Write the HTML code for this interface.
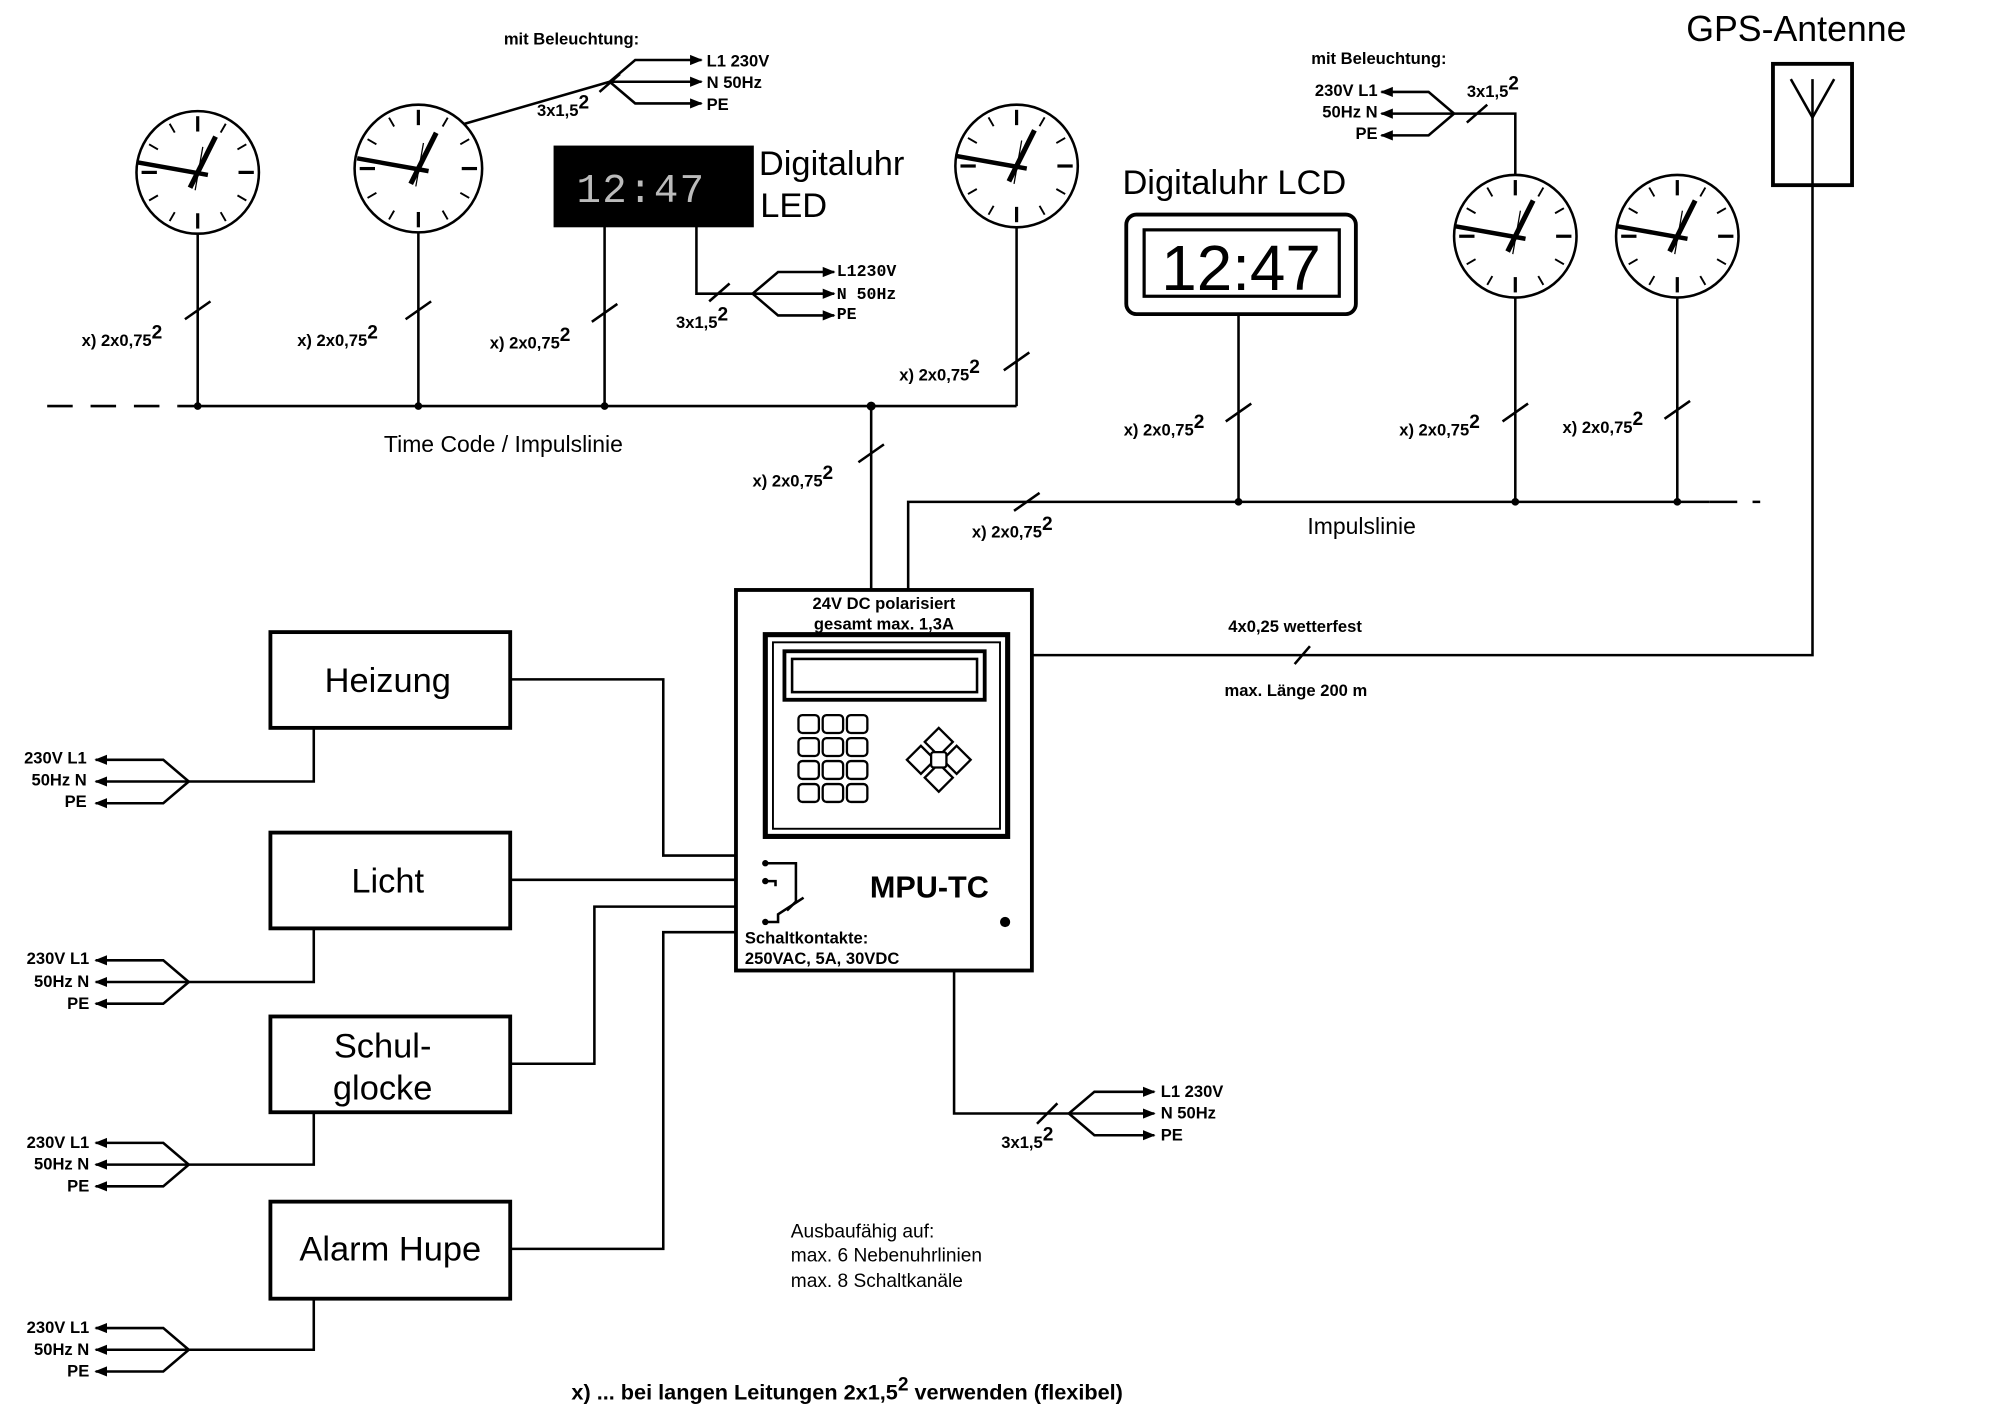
<!DOCTYPE html>
<html><head><meta charset="utf-8"><style>
html,body{margin:0;padding:0;background:#fff}
svg{display:block}
text{font-family:"Liberation Sans",sans-serif;fill:#000}
.b{font-weight:bold;font-size:13px}
</style></head><body>
<svg id="s" width="2000" height="1420" viewBox="0 0 1568 1112" preserveAspectRatio="none" xmlns="http://www.w3.org/2000/svg">
<defs><marker id="ar" viewBox="0 0 10 10" refX="9" refY="5" markerWidth="5" markerHeight="5" orient="auto"><path d="M0,1 L10,5 L0,9 z" fill="#000"/></marker></defs>
<g stroke="#000" stroke-width="2" fill="none">
<line x1="37" y1="318" x2="140" y2="318" stroke-dasharray="20,14"/>
<line x1="140" y1="318" x2="797" y2="318"/>
<line x1="155" y1="183" x2="155" y2="318"/>
<line x1="328" y1="182" x2="328" y2="318"/>
<line x1="474" y1="177" x2="474" y2="318"/>
<line x1="797" y1="178" x2="797" y2="318"/>
<line x1="683" y1="318" x2="683" y2="462"/>
<polyline points="712,462 712,393 1340,393"/>
<line x1="1340" y1="393" x2="1380" y2="393" stroke-dasharray="22,12"/>
<line x1="971" y1="247" x2="971" y2="393"/>
<line x1="1188" y1="233" x2="1188" y2="393"/>
<line x1="1315" y1="233" x2="1315" y2="393"/>
<polyline points="1421,145 1421,513 810,513"/>
<line x1="145" y1="250" x2="165" y2="236"/>
<line x1="318" y1="250" x2="338" y2="236"/>
<line x1="464" y1="252" x2="484" y2="238"/>
<line x1="787" y1="290" x2="807" y2="276"/>
<line x1="673" y1="362" x2="693" y2="348"/>
<line x1="795" y1="400" x2="815" y2="386"/>
<line x1="961" y1="330" x2="981" y2="316"/>
<line x1="1178" y1="330" x2="1198" y2="316"/>
<line x1="1305" y1="328" x2="1325" y2="314"/>
<line x1="1015" y1="520" x2="1027" y2="506"/>
<rect x="435" y="115" width="155" height="62" fill="#000"/>
<polyline points="546,177 546,230 590,230"/>
<line x1="556" y1="236" x2="572" y2="222"/>
<line x1="364" y1="97" x2="478" y2="64"/>
<line x1="470" y1="72" x2="486" y2="58"/>
<polyline points="1188,137 1188,89 1140,89"/>
<line x1="1150" y1="96" x2="1166" y2="82"/>
<rect x="883" y="168" width="180" height="78" rx="8" stroke-width="3"/>
<rect x="897" y="180" width="153" height="52" stroke-width="2.5"/>
<rect x="1390" y="50" width="62" height="95" stroke-width="3"/>
<line x1="1421" y1="62" x2="1421" y2="145"/>
<line x1="1404" y1="62" x2="1421" y2="92"/>
<line x1="1438" y1="62" x2="1421" y2="92"/>
<rect x="577" y="462" width="232" height="298" stroke-width="3"/>
<rect x="600" y="497" width="190" height="158" stroke-width="4"/>
<rect x="606" y="503" width="178" height="146" stroke-width="1.5"/>
<rect x="615" y="510" width="157" height="38" stroke-width="3"/>
<rect x="621" y="516" width="145" height="26" stroke-width="2"/>
<polyline points="600,676 624,676 624,706 617,713"/>
<polyline points="600,690 608,690 608,694"/>
<polyline points="600,722 610,722 610,716 630,703"/>
<polyline points="400,532 520,532 520,670 577,670"/>
<line x1="400" y1="689" x2="577" y2="689"/>
<polyline points="400,833 466,833 466,710 577,710"/>
<polyline points="400,978 520,978 520,730 577,730"/>
<rect x="212" y="495" width="188" height="75" stroke-width="3"/>
<rect x="212" y="652" width="188" height="75" stroke-width="3"/>
<rect x="212" y="796" width="188" height="75" stroke-width="3"/>
<rect x="212" y="941" width="188" height="76" stroke-width="3"/>
<polyline points="246,570 246,612 148,612"/>
<polyline points="246,727 246,769 148,769"/>
<polyline points="246,871 246,912 148,912"/>
<polyline points="246,1017 246,1057 148,1057"/>
<polyline points="748,760 748,872 838,872"/>
<line x1="813" y1="880" x2="829" y2="864"/>
</g>
<g id="fans" stroke="#000" stroke-width="2" fill="none"></g>
<g id="clocks"></g>
<circle cx="155" cy="318" r="3"/><circle cx="328" cy="318" r="3"/><circle cx="474" cy="318" r="3"/><circle cx="683" cy="318" r="3.5"/>
<circle cx="971" cy="393" r="3"/><circle cx="1188" cy="393" r="3"/><circle cx="1315" cy="393" r="3"/>
<circle cx="788" cy="722" r="4"/>
<circle cx="600" cy="676" r="2.5"/><circle cx="600" cy="690" r="2.5"/><circle cx="600" cy="722" r="2.5"/>
<g stroke="#000" stroke-width="1.8" fill="#fff">
<rect x="626" y="560" width="16" height="14" rx="3"/><rect x="645" y="560" width="16" height="14" rx="3"/><rect x="664" y="560" width="16" height="14" rx="3"/>
<rect x="626" y="578" width="16" height="14" rx="3"/><rect x="645" y="578" width="16" height="14" rx="3"/><rect x="664" y="578" width="16" height="14" rx="3"/>
<rect x="626" y="596" width="16" height="14" rx="3"/><rect x="645" y="596" width="16" height="14" rx="3"/><rect x="664" y="596" width="16" height="14" rx="3"/>
<rect x="626" y="614" width="16" height="14" rx="3"/><rect x="645" y="614" width="16" height="14" rx="3"/><rect x="664" y="614" width="16" height="14" rx="3"/>
<path d="M736,570 l11,11 l-11,11 l-11,-11 z"/>
<path d="M736,598 l11,11 l-11,11 l-11,-11 z"/>
<path d="M722,584 l11,11 l-11,11 l-11,-11 z"/>
<path d="M750,584 l11,11 l-11,11 l-11,-11 z"/>
<rect x="730" y="589" width="12" height="12" rx="2"/>
</g>
<text x="452" y="158" font-size="32" style="fill:#bbb;font-family:'Liberation Mono',monospace" letter-spacing="1">12:47</text>
<text x="973" y="227" font-size="50" text-anchor="middle" style="font-family:'Liberation Sans Narrow','Liberation Sans',sans-serif">12:47</text>
<text x="595" y="137" font-size="27">Digitaluhr</text>
<text x="596" y="170" font-size="27">LED</text>
<text x="880" y="152" font-size="27">Digitaluhr LCD</text>
<text x="1322" y="32" font-size="28">GPS-Antenne</text>
<text x="301" y="354" font-size="18">Time Code / Impulslinie</text>
<text x="1025" y="418" font-size="18">Impulslinie</text>
<g class="b">
<text x="64" y="271">x) 2x0,75<tspan dy="-6" font-size="15">2</tspan></text>
<text x="233" y="271">x) 2x0,75<tspan dy="-6" font-size="15">2</tspan></text>
<text x="384" y="273">x) 2x0,75<tspan dy="-6" font-size="15">2</tspan></text>
<text x="705" y="298">x) 2x0,75<tspan dy="-6" font-size="15">2</tspan></text>
<text x="590" y="381">x) 2x0,75<tspan dy="-6" font-size="15">2</tspan></text>
<text x="762" y="421">x) 2x0,75<tspan dy="-6" font-size="15">2</tspan></text>
<text x="881" y="341">x) 2x0,75<tspan dy="-6" font-size="15">2</tspan></text>
<text x="1097" y="341">x) 2x0,75<tspan dy="-6" font-size="15">2</tspan></text>
<text x="1225" y="339">x) 2x0,75<tspan dy="-6" font-size="15">2</tspan></text>
<text x="395" y="35">mit Beleuchtung:</text>
<text x="1028" y="50">mit Beleuchtung:</text>
<text x="421" y="91">3x1,5<tspan dy="-6" font-size="15">2</tspan></text>
<text x="530" y="257">3x1,5<tspan dy="-6" font-size="15">2</tspan></text>
<text x="1150" y="76">3x1,5<tspan dy="-6" font-size="15">2</tspan></text>
<text x="785" y="899">3x1,5<tspan dy="-6" font-size="15">2</tspan></text>
<text x="554" y="52">L1  230V</text><text x="554" y="69">N     50Hz</text><text x="554" y="86">PE</text>
<text x="656" y="216" style="font-family:'Liberation Mono',monospace">L1230V</text><text x="656" y="234" style="font-family:'Liberation Mono',monospace">N  50Hz</text><text x="656" y="250" style="font-family:'Liberation Mono',monospace">PE</text>
<text x="1080" y="75" text-anchor="end">230V  L1</text><text x="1080" y="92" text-anchor="end">50Hz    N</text><text x="1080" y="109" text-anchor="end">PE</text>
<text x="910" y="859">L1  230V</text><text x="910" y="876">N     50Hz</text><text x="910" y="893">PE</text>
<text x="68" y="598" text-anchor="end">230V  L1</text><text x="68" y="615" text-anchor="end">50Hz    N</text><text x="68" y="632" text-anchor="end">PE</text>
<text x="70" y="755" text-anchor="end">230V  L1</text><text x="70" y="773" text-anchor="end">50Hz    N</text><text x="70" y="790" text-anchor="end">PE</text>
<text x="70" y="899" text-anchor="end">230V  L1</text><text x="70" y="916" text-anchor="end">50Hz    N</text><text x="70" y="933" text-anchor="end">PE</text>
<text x="70" y="1044" text-anchor="end">230V  L1</text><text x="70" y="1061" text-anchor="end">50Hz    N</text><text x="70" y="1078" text-anchor="end">PE</text>
<text x="693" y="477" text-anchor="middle">24V DC polarisiert</text>
<text x="693" y="493" text-anchor="middle">gesamt max. 1,3A</text>
<text x="584" y="739">Schaltkontakte:</text>
<text x="584" y="755">250VAC, 5A, 30VDC</text>
<text x="963" y="495">4x0,25 wetterfest</text>
<text x="960" y="545">max. Länge 200 m</text>
</g>
<text x="682" y="703" font-size="24" font-weight="bold">MPU-TC</text>
<text x="304" y="542" font-size="27" text-anchor="middle">Heizung</text>
<text x="304" y="699" font-size="27" text-anchor="middle">Licht</text>
<text x="300" y="828" font-size="27" text-anchor="middle">Schul-</text>
<text x="300" y="861" font-size="27" text-anchor="middle">glocke</text>
<text x="306" y="987" font-size="27" text-anchor="middle">Alarm Hupe</text>
<text x="620" y="969" font-size="15">Ausbaufähig auf:</text>
<text x="620" y="988" font-size="15">max. 6 Nebenuhrlinien</text>
<text x="620" y="1008" font-size="15">max. 8 Schaltkanäle</text>
<text x="448" y="1096" font-size="17" font-weight="bold">x) ... bei langen Leitungen 2x1,5<tspan dy="-7" font-size="15">2</tspan><tspan dy="7"> verwenden (flexibel)</tspan></text>
<script>
var NS="http://www.w3.org/2000/svg";
function el(p,t,a){var e=document.createElementNS(NS,t);for(var k in a)e.setAttribute(k,a[k]);p.appendChild(e);return e;}
var g=document.getElementById("clocks");
[[155,135,48],[328,132,50],[797,130,48],[1188,185,48],[1315,185,48]].forEach(function(c){
 el(g,"circle",{cx:c[0],cy:c[1],r:c[2],fill:"#fff",stroke:"#000","stroke-width":2});
 for(var i=0;i<12;i++){var a=i*Math.PI/6,r1=c[2]-4,r2=c[2]-(i%3?12:16);
  el(g,"line",{x1:c[0]+r1*Math.sin(a),y1:c[1]-r1*Math.cos(a),x2:c[0]+r2*Math.sin(a),y2:c[1]-r2*Math.cos(a),stroke:"#000","stroke-width":i%3?1.5:2.5});}
 el(g,"line",{x1:c[0]-6,y1:c[1]+12,x2:c[0]+14,y2:c[1]-28,stroke:"#000","stroke-width":4});
 el(g,"line",{x1:c[0]+8,y1:c[1]+2,x2:c[0]-48,y2:c[1]-8,stroke:"#000","stroke-width":3.5});
 el(g,"line",{x1:c[0]-2,y1:c[1]+14,x2:c[0]+4,y2:c[1]-20,stroke:"#000","stroke-width":1});
});
var f=document.getElementById("fans");
function fan(x,y,dir,x2){
 var xs=x+dir*20;
 [-17,0,17].forEach(function(d){
  el(f,"polyline",{points:x+","+y+" "+xs+","+(y+d)+" "+x2+","+(y+d),"marker-end":"url(#ar)"});
 });
}
fan(148,612,-1,75);fan(148,769,-1,75);fan(148,912,-1,75);fan(148,1057,-1,75);
fan(838,872,1,905);fan(478,64,1,550);fan(590,230,1,654);fan(1140,89,-1,1083);
</script>
</svg>
</body></html>
